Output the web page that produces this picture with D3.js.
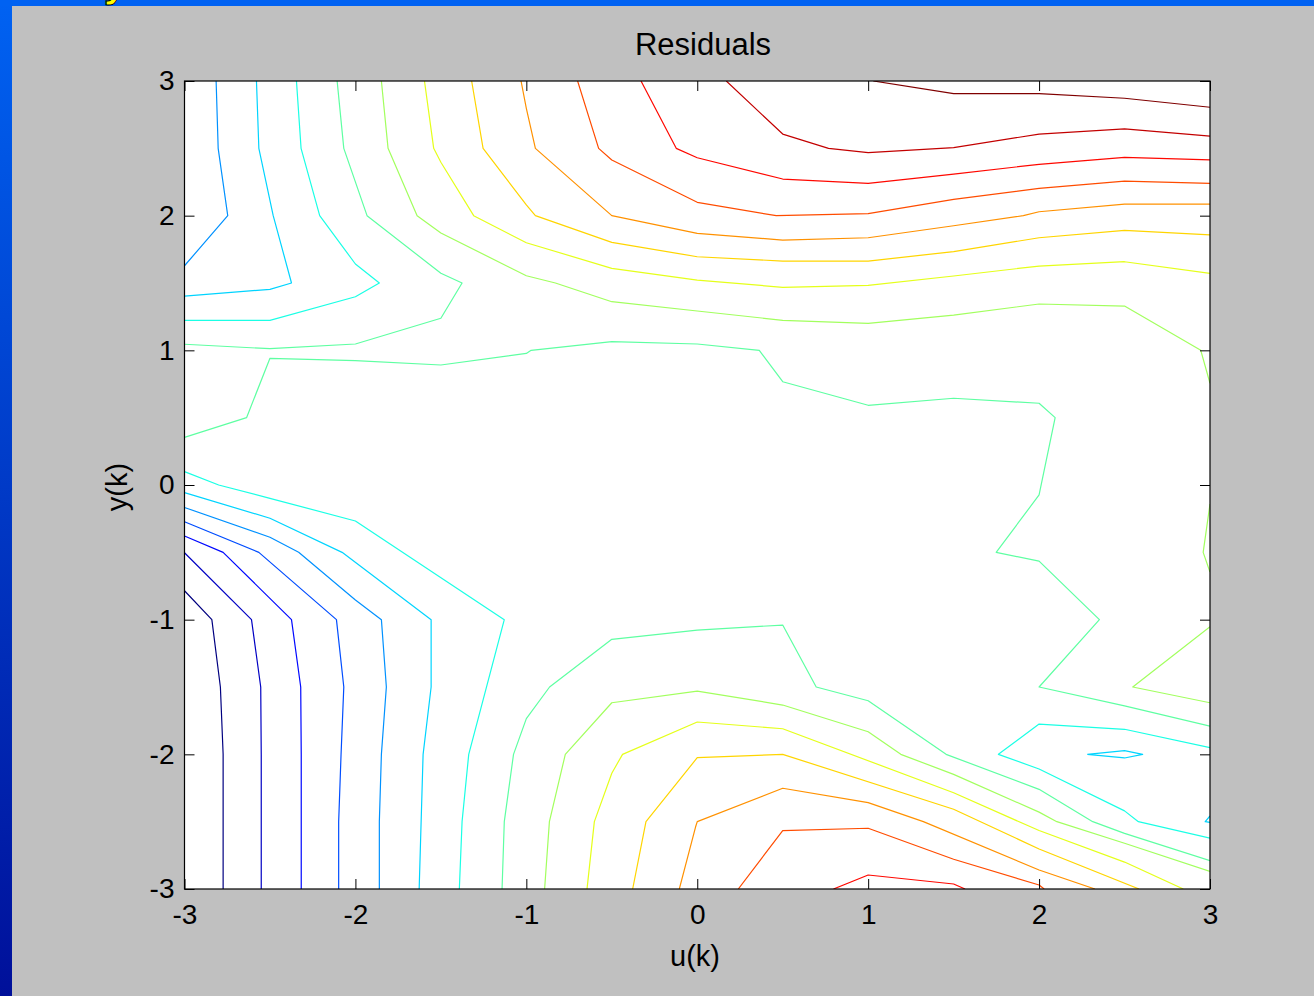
<!DOCTYPE html>
<html>
<head>
<meta charset="utf-8">
<script src="https://cdn.jsdelivr.net/npm/d3@7"></script>
<style>
  body { margin: 0; background: #c0c0c0; }
  svg { display: block; }
  text { font-family: Arial, "Liberation Sans", sans-serif; }
</style>
</head>
<body>
<svg id="chart"></svg>
<script>
// contour lines of the residual surface, one array per level (u, y pairs)
var L01 = [
  [[-3,-0.785],[-2.84,-1],[-2.79,-1.5],[-2.774,-2],[-2.774,-3]]
]
var L02 = [
  [[-3,-0.503],[-2.608,-1],[-2.554,-1.5],[-2.551,-2],[-2.551,-3]]
]
var L03 = [
  [[-3,-0.379],[-2.774,-0.5],[-2.374,-1],[-2.32,-1.5],[-2.317,-2],[-2.317,-3]]
]
var L04 = [
  [[-3,-0.273],[-2.565,-0.5],[-2.111,-1],[-2.068,-1.5],[-2.084,-2],[-2.098,-2.5],[-2.098,-3]]
]
var L05 = [
  [[-2.815,3],[-2.803,2.5],[-2.747,2],[-3,1.628]],
  [[-3,-0.167],[-2.5,-0.388],[-2.332,-0.5],[-2,-0.854],[-1.848,-1],[-1.819,-1.5],[-1.848,-2],[-1.86,-2.5],[-1.86,-3]]
]
var L06 = [
  [[-2.579,3],[-2.565,2.5],[-2.481,2],[-2.374,1.5],[-2.5,1.453],[-3,1.403]],
  [[-3,-0.057],[-2.5,-0.247],[-2.078,-0.5],[-1.557,-1],[-1.557,-1.5],[-1.604,-2],[-1.627,-3]],
  [[2.282,-2],[2.5,-1.973],[2.606,-2],[2.5,-2.027],[2.282,-2]],
  [[3,-2.458],[2.972,-2.5],[3,-2.505]]
]
var L07 = [
  [[-2.345,3],[-2.318,2.5],[-2.209,2],[-2,1.641],[-1.86,1.5],[-2,1.398],[-2.5,1.223],[-3,1.223]],
  [[-3,0.099],[-2.8,0],[-2.5,-0.099],[-2,-0.267],[-1.129,-1],[-1.337,-2],[-1.376,-2.5],[-1.392,-3]],
  [[3,-1.951],[2.5,-1.814],[2,-1.775],[1.762,-2],[2,-2.109],[2.5,-2.42],[2.581,-2.5],[3,-2.623]]
]
var L08 = [
  [[-2.107,3],[-2.068,2.5],[-1.932,2],[-1.5,1.572],[-1.376,1.5],[-1.5,1.238],[-2,1.047],[-2.5,1.012],[-3,1.045]],
  [[-3,0.354],[-2.637,0.5],[-2.5,0.941],[-2,0.923],[-1.5,0.891],[-1,0.977],[-0.972,1],[-0.5,1.064],[0,1.047],
   [0.363,1],[0.5,0.767],[1,0.592],[1.5,0.644],[2,0.607],[2.094,0.5],[2,-0.074],[1.749,-0.5],[2,-0.565],
   [2.353,-1],[2,-1.5],[2.5,-1.64],[3,-1.79]],
  [[-1.142,-3],[-1.129,-2.5],[-1.075,-2],[-1,-1.735],[-0.864,-1.5],[-0.5,-1.146],[0,-1.077],[0.5,-1.04],
   [0.696,-1.5],[1,-1.602],[1.456,-2],[2,-2.26],[2.314,-2.5],[2.5,-2.587],[3,-2.79]]
]
var L09 = [
  [[-1.848,3],[-1.809,2.5],[-1.639,2],[-1.5,1.871],[-1,1.554],[-0.83,1.5],[-0.5,1.361],[0,1.292],[0.5,1.223],
   [1,1.2],[1.5,1.262],[2,1.344],[2.5,1.329],[2.946,1],[3,0.755]],
  [[3,-0.141],[2.96,-0.5],[3,-0.646]],
  [[3,-1.052],[2.548,-1.5],[3,-1.617]],
  [[-0.893,-3],[-0.865,-2.5],[-0.772,-2],[-0.5,-1.617],[0,-1.53],[0.5,-1.634],[1,-1.832],[1.191,-2],
   [1.5,-2.149],[2,-2.429],[2.104,-2.5],[2.5,-2.66],[3,-2.87]]
]
var L10 = [
  [[-1.596,3],[-1.542,2.5],[-1.5,2.397],[-1.308,2],[-1,1.799],[-0.5,1.609],[0,1.522],[0.5,1.468],[1,1.482],
   [1.5,1.552],[2,1.626],[2.5,1.658],[3,1.572]],
  [[-0.645,-3],[-0.602,-2.5],[-0.5,-2.14],[-0.437,-2],[0,-1.76],[0.5,-1.81],[1.5,-2.285],[2,-2.566],[2.5,-2.8],[2.844,-3]]
]
var L11 = [
  [[-1.32,3],[-1.253,2.5],[-1,2.08],[-0.947,2],[-0.5,1.802],[0,1.695],[0.5,1.663],[1,1.663],[1.5,1.733],
   [2,1.836],[2.5,1.891],[3,1.857]],
  [[-0.378,-3],[-0.3,-2.5],[0,-2.025],[0.5,-2],[1.5,-2.408],[2,-2.703],[2.585,-3]]
]
var L12 = [
  [[-1.031,3],[-1,2.797],[-0.947,2.5],[-0.5,2],[0,1.869],[0.5,1.819],[1,1.836],[1.5,1.925],[1.908,2],
   [2,2.029],[2.5,2.085],[3,2.085]],
  [[-0.105,-3],[-0.01,-2.54],[0,-2.5],[0.5,-2.252],[1,-2.359],[1.323,-2.5],[2,-2.859],[2.327,-3]]
]
var L13 = [
  [[-0.7,3],[-0.577,2.5],[-0.5,2.413],[0,2.099],[0.462,2],[1,2.015],[1.5,2.121],[2,2.203],[2.5,2.257],[3,2.24]],
  [[0.24,-3],[0.5,-2.567],[1,-2.549],[1.5,-2.779],[2,-2.97],[2.03,-3]]
]
var L14 = [
  [[-0.329,3],[-0.123,2.5],[0,2.43],[0.5,2.272],[1,2.24],[1.5,2.309],[2,2.381],[2.5,2.433],[3,2.415]],
  [[0.797,-3],[1,-2.896],[1.5,-2.963],[1.567,-3]]
]
var L15 = [
  [[0.17,3],[0.5,2.606],[0.768,2.5],[1,2.468],[1.5,2.505],[2,2.606],[2.5,2.645],[3,2.591]]
]
var L16 = [
  [[1.03,3],[1.5,2.906],[2,2.906],[2.5,2.872],[3,2.805]]
]
var levelLines = [L01, L02, L03, L04, L05, L06, L07, L08, L09, L10, L11, L12, L13, L14, L15, L16]

var xTicks = [-3, -2, -1, 0, 1, 2, 3]
var yTicks = [-3, -2, -1, 0, 1, 2, 3]
var titleText = "Residuals"
var xLabel = "u(k)"
var yLabel = "y(k)"

var W = 1314, H = 996
var plot = {left: 184.5, right: 1210, top: 81, bottom: 889}

var svg = d3.select("#chart").attr("width", W).attr("height", H)

// slide background: blue strips, partial yellow heading glyph, grey panel
var defs = svg.append("defs")
var grad = defs.append("linearGradient").attr("id", "sideGrad")
    .attr("x1", 0).attr("y1", 0).attr("x2", 0).attr("y2", 1)
grad.append("stop").attr("offset", "0%").attr("stop-color", "#0062f2")
grad.append("stop").attr("offset", "100%").attr("stop-color", "#00109a")
svg.append("rect").attr("width", W).attr("height", H).attr("fill", "url(#sideGrad)")
svg.append("rect").attr("width", W).attr("height", 6).attr("fill", "#0062f2")
svg.append("text").attr("x", 104).attr("y", -3)
    .attr("font-size", 40).attr("font-weight", "bold")
    .attr("fill", "#ffff00").attr("stroke", "#000").attr("stroke-width", 1)
    .text("y")
svg.append("rect").attr("x", 12).attr("y", 6).attr("width", W - 12).attr("height", H - 6)
    .attr("fill", "#c0c0c0")

// jet colormap, as used by the contour levels
function jet(f) {
    var c = function(v) { return Math.round(255 * Math.max(0, Math.min(1, 1.5 - Math.abs(4 * f - v)))) }
    return "rgb(" + c(3) + "," + c(2) + "," + c(1) + ")"
}
var color = function(i) { return jet(i / (levelLines.length - 1)) }

var x = d3.scaleLinear().domain([-3, 3]).range([plot.left, plot.right])
var y = d3.scaleLinear().domain([-3, 3]).range([plot.bottom, plot.top])

svg.append("rect")
    .attr("x", plot.left).attr("y", plot.top)
    .attr("width", plot.right - plot.left).attr("height", plot.bottom - plot.top)
    .attr("fill", "#fff")

defs.append("clipPath").attr("id", "plotClip").append("rect")
    .attr("x", plot.left).attr("y", plot.top)
    .attr("width", plot.right - plot.left).attr("height", plot.bottom - plot.top)

var line = d3.line().x(function(d) { return x(d[0]) }).y(function(d) { return y(d[1]) })

var contourG = svg.append("g").attr("clip-path", "url(#plotClip)")
levelLines.forEach(function(lines, i) {
    contourG.selectAll(null)
        .data(lines)
        .enter().append("path")
        .attr("d", line)
        .attr("fill", "none")
        .attr("stroke", color(i))
        .attr("stroke-width", 1.2)
        .attr("stroke-linejoin", "round")
})

// axes with inward ticks on all four sides
var tickLen = 10
var plainNum = function(d) { return String(d) }   // hyphen minus, like MATLAB
function styleAxis(g) {
    g.select(".domain").remove()
    g.selectAll(".tick line").attr("stroke", "#000").attr("stroke-width", 1)
    g.selectAll(".tick text").attr("fill", "#000").attr("font-size", 28)
        .attr("font-family", "Arial, 'Liberation Sans', sans-serif")
}
svg.append("g").attr("transform", "translate(0," + plot.bottom + ")")
    .call(d3.axisBottom(x).tickValues(xTicks).tickSize(-tickLen).tickPadding(15).tickFormat(plainNum))
    .call(styleAxis)
svg.append("g").attr("transform", "translate(0," + plot.top + ")")
    .call(d3.axisTop(x).tickValues(xTicks).tickSize(-tickLen).tickFormat(""))
    .call(styleAxis)
svg.append("g").attr("transform", "translate(" + plot.left + ",0)")
    .call(d3.axisLeft(y).tickValues(yTicks).tickSize(-tickLen).tickPadding(10).tickFormat(plainNum))
    .call(styleAxis)
svg.append("g").attr("transform", "translate(" + plot.right + ",0)")
    .call(d3.axisRight(y).tickValues(yTicks).tickSize(-tickLen).tickFormat(""))
    .call(styleAxis)

svg.append("rect")
    .attr("x", plot.left).attr("y", plot.top)
    .attr("width", plot.right - plot.left).attr("height", plot.bottom - plot.top)
    .attr("fill", "none").attr("stroke", "#000").attr("stroke-width", 1.2)

// labels
svg.append("text").attr("x", 703).attr("y", 55)
    .attr("text-anchor", "middle").attr("font-size", 31).text(titleText)
svg.append("text").attr("x", 695).attr("y", 966)
    .attr("text-anchor", "middle").attr("font-size", 29).text(xLabel)
svg.append("text").attr("transform", "translate(127,487) rotate(-90)")
    .attr("text-anchor", "middle").attr("font-size", 29).text(yLabel)
</script>
</body>
</html>
